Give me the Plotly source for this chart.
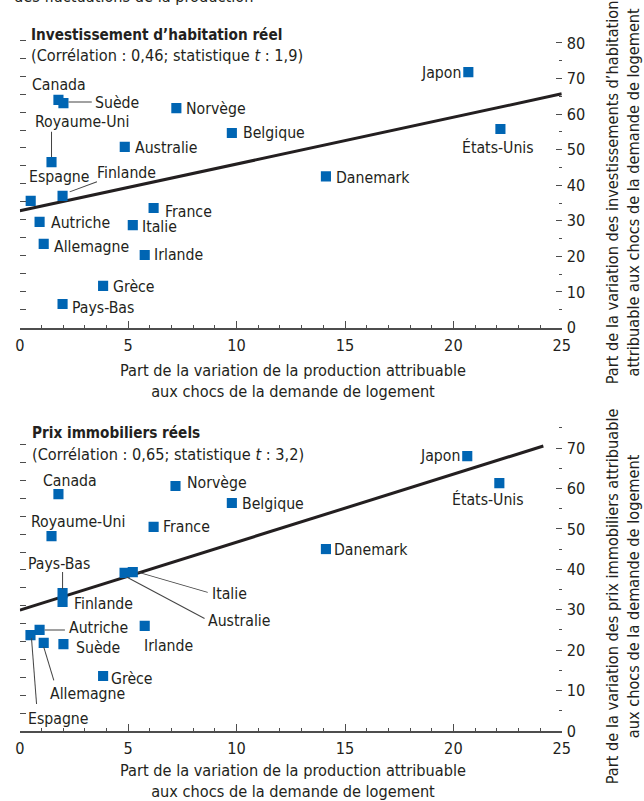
import plotly.graph_objects as go

# reference canvas (coordinates below are measured on it)
W0, H0 = 644, 801
# figure is built slightly larger so that it fills the photographed page
K = 652 / 644
W, H = round(W0 * K), round(H0 * K)

FONT = "DejaVu Sans Condensed, Liberation Sans Narrow, Arial Narrow, sans-serif"
TXT = "#231f20"
BLUE = "#0065b3"
AXC = "#4d4d4d"

# ---------------- data ----------------
countries_top = ["Canada", "Suède", "Norvège", "Belgique", "Australie", "Royaume-Uni",
                 "Espagne", "Finlande", "France", "Autriche", "Italie", "Allemagne",
                 "Irlande", "Grèce", "Pays-Bas", "Japon", "États-Unis", "Danemark"]
x_top = [1.78, 2.01, 7.22, 9.78, 4.84, 1.46, 0.50, 1.97, 6.17, 0.91, 5.21, 1.10,
         5.76, 3.84, 1.97, 20.69, 22.17, 14.12]
y_top = [64.0, 63.1, 61.7, 54.7, 50.8, 46.5, 35.6, 37.0, 33.6, 29.7, 28.8, 23.5,
         20.4, 11.7, 6.6, 71.8, 55.8, 42.5]
fit_top_x = [0, 25]
fit_top_y = [32.8, 65.7]

countries_bot = ["Canada", "Norvège", "Belgique", "France", "Royaume-Uni", "Danemark",
                 "Australie", "Italie", "Pays-Bas", "Finlande", "Irlande", "Autriche",
                 "Espagne", "Allemagne", "Suède", "Grèce", "Japon", "États-Unis"]
x_bot = [1.78, 7.18, 9.78, 6.17, 1.46, 14.12, 4.83, 5.21, 1.97, 1.97, 5.76, 0.91,
         0.49, 1.10, 2.01, 3.84, 20.64, 22.12]
y_bot = [58.6, 60.6, 56.4, 50.5, 48.2, 45.0, 39.1, 39.3, 34.1, 31.9, 26.0, 25.0,
         23.7, 21.8, 21.5, 13.6, 68.0, 61.3]
fit_bot_x = [0, 24.15]
fit_bot_y = [29.9, 70.5]

x_ticks = [0, 5, 10, 15, 20, 25]
y_ticks_top = [0, 10, 20, 30, 40, 50, 60, 70, 80]
y_ticks_bot = [0, 10, 20, 30, 40, 50, 60, 70]
left_ticks = [5, 10, 15, 20, 25, 30, 35, 40, 45, 50, 55, 60, 65, 70, 75, 80]

title_top = "<b>Investissement d’habitation réel</b>"
sub_top = "(Corrélation : 0,46; statistique <i>t</i> : 1,9)"
title_bot = "<b>Prix immobiliers réels</b>"
sub_bot = "(Corrélation : 0,65; statistique <i>t</i> : 3,2)"
xtitle = "Part de la variation de la production attribuable<br>aux chocs de la demande de logement"
ytitle_top = "Part de la variation des investissements d’habitation<br>attribuable aux chocs de la demande de logement"
ytitle_bot = "Part de la variation des prix immobiliers attribuable<br>aux chocs de la demande de logement"
cut_text = "des fluctuations de la production"

# ---------------- label placement (pixels) ----------------
# (xanchor, dx, dy_down)
lab_top = {
    "Canada": ("center", 1, -15), "Suède": ("left", 30, -1), "Norvège": ("left", 9, 0),
    "Belgique": ("left", 10, 0), "Australie": ("left", 9, 1), "Royaume-Uni": ("left", -17, -40),
    "Espagne": ("left", -3, -24), "Finlande": ("left", 33, -23), "France": ("left", 10, 3),
    "Autriche": ("left", 10, 1), "Italie": ("left", 8, 1), "Allemagne": ("left", 9, 3),
    "Irlande": ("left", 8, 0), "Grèce": ("left", 9, 1), "Pays-Bas": ("left", 8, 3),
    "Japon": ("right", -6, 0), "États-Unis": ("center", -2, 18), "Danemark": ("left", 9, 1),
}
lead_top = {
    "Suède": (5, -1, 28, -1), "Royaume-Uni": (0, -5, 0, -30), "Finlande": (7, -4, 34, -14),
}
lab_bot = {
    "Canada": ("center", 11, -13), "Norvège": ("left", 10, -3), "Belgique": ("left", 9, 1),
    "France": ("left", 8, 0), "Royaume-Uni": ("left", -21, -14), "Danemark": ("left", 7, 0),
    "Australie": ("left", 81, 47), "Italie": ("left", 77, 21), "Pays-Bas": ("left", -35, -29),
    "Finlande": ("left", 10, 1), "Irlande": ("left", -2, 19), "Autriche": ("left", 28, -2),
    "Espagne": ("left", -3, 82), "Allemagne": ("left", 5, 50), "Suède": ("left", 11, 3),
    "Grèce": ("left", 7, 2), "Japon": ("right", -6, -1), "États-Unis": ("center", -11, 16),
}
lead_bot = {
    "Pays-Bas": (0, -4, 0, -21), "Italie": (5, 0, 74, 20), "Australie": (2, 4, 79, 45),
    "Autriche": (5, 0, 25, 0), "Espagne": (1, 3, 6, 68), "Allemagne": (0, 4, 10, 37),
}

# ---------------- layout geometry ----------------
def px(x):
    return x / W0

def py(y):
    return 1 - y / H0

def s(v):
    return v * K

xdom = [px(15), px(562)]
ydom_top = [py(327.5), py(25.2)]
ydom_bot = [py(731), py(419.7)]

fig = go.Figure()

fig.add_trace(go.Scatter(x=fit_top_x, y=fit_top_y, mode="lines",
                         line=dict(color=TXT, width=s(3)), xaxis="x", yaxis="y",
                         hoverinfo="skip", showlegend=False))
fig.add_trace(go.Scatter(x=x_top, y=y_top, mode="markers", text=countries_top,
                         marker=dict(symbol="square", size=s(10), color=BLUE),
                         xaxis="x", yaxis="y", showlegend=False))
fig.add_trace(go.Scatter(x=fit_bot_x, y=fit_bot_y, mode="lines",
                         line=dict(color=TXT, width=s(3)), xaxis="x2", yaxis="y2",
                         hoverinfo="skip", showlegend=False))
fig.add_trace(go.Scatter(x=x_bot, y=y_bot, mode="markers", text=countries_bot,
                         marker=dict(symbol="square", size=s(10), color=BLUE),
                         xaxis="x2", yaxis="y2", showlegend=False))
# empty traces to activate left tick axes
fig.add_trace(go.Scatter(x=[], y=[], xaxis="x", yaxis="y3", showlegend=False))
fig.add_trace(go.Scatter(x=[], y=[], xaxis="x2", yaxis="y4", showlegend=False))

tickfont = dict(family=FONT, size=s(16), color=TXT)

def xaxis_cfg(anchor):
    return dict(domain=xdom, range=[0, 25], anchor=anchor, showgrid=False, zeroline=False,
                showline=True, linecolor=AXC, linewidth=s(1.5),
                ticks="inside", ticklen=s(7), tickwidth=s(1.3), tickcolor=AXC,
                tickvals=x_ticks, tickfont=tickfont, fixedrange=True,
                ticklabelstandoff=round(s(2)),
                minor=dict(dtick=1, tick0=0, ticks="inside", ticklen=s(3), tickwidth=s(1.2),
                           tickcolor=AXC, showgrid=False))

def yaxis_cfg(anchor, dom, rng, vals):
    return dict(domain=dom, range=rng, anchor=anchor, side="right", showgrid=False,
                zeroline=False, showline=False, ticks="inside", ticklen=s(6),
                tickwidth=s(1.3), tickcolor=AXC, tickvals=vals, tickfont=tickfont,
                fixedrange=True, ticklabelstandoff=round(s(4)),
                minor=dict(dtick=5, tick0=0, ticks="inside", ticklen=s(3), tickwidth=s(1.2),
                           tickcolor=AXC, showgrid=False))

def left_cfg(anchor, overl, rng):
    return dict(overlaying=overl, anchor=anchor, side="left", range=rng, showgrid=False,
                zeroline=False, showline=False, ticks="inside", ticklen=s(6),
                tickwidth=s(1.2), tickcolor=AXC, tickvals=left_ticks,
                showticklabels=False, fixedrange=True)

annotations = []
shapes = []
LABSIZE = 15.5

def add_labels(names, xs, ys, labs, leads, xr, yr):
    for n, xv, yv in zip(names, xs, ys):
        anc, dx, dy = labs[n]
        annotations.append(dict(x=xv, y=yv, xref=xr, yref=yr, text=n, showarrow=False,
                                xanchor=anc, yanchor="middle", xshift=s(dx), yshift=-s(dy),
                                borderpad=0,
                                font=dict(family=FONT, size=s(LABSIZE), color=TXT)))
        if n in leads:
            x0, y0, x1, y1 = leads[n]
            shapes.append(dict(type="line", xref=xr, yref=yr, xsizemode="pixel",
                               ysizemode="pixel", xanchor=xv, yanchor=yv,
                               x0=s(x0), x1=s(x1), y0=-s(y0), y1=-s(y1),
                               line=dict(color="#444444", width=s(1))))

add_labels(countries_top, x_top, y_top, lab_top, lead_top, "x", "y")
add_labels(countries_bot, x_bot, y_bot, lab_bot, lead_bot, "x2", "y2")

def ptext(text, x, y, size=16, xanchor="left", yanchor="middle", angle=0, align="left"):
    annotations.append(dict(x=px(x), y=py(y), xref="paper", yref="paper", text=text,
                            showarrow=False, xanchor=xanchor, yanchor=yanchor,
                            textangle=angle, align=align, borderpad=0,
                            font=dict(family=FONT, size=s(size), color=TXT)))

ptext(cut_text, 8, 7, yanchor="bottom")
ptext(title_top, 25, 35, size=15)
ptext(sub_top, 25, 56)
ptext(title_bot, 26, 433, size=15)
ptext(sub_bot, 26, 454)
ptext(xtitle, 291, 381, xanchor="center", align="center")
ptext(xtitle, 291, 781, xanchor="center", align="center")
ptext(ytitle_top, 624, 192, xanchor="center", angle=-90, align="center")
ptext(ytitle_bot, 624, 596, xanchor="center", angle=-90, align="center")

fig.update_layout(
    width=W, height=H, margin=dict(l=0, r=0, t=0, b=0),
    paper_bgcolor="white", plot_bgcolor="white", showlegend=False,
    font=dict(family=FONT, size=s(16), color=TXT),
    xaxis=xaxis_cfg("y"),
    xaxis2=xaxis_cfg("y2"),
    yaxis=yaxis_cfg("x", ydom_top, [0, 85], y_ticks_top),
    yaxis2=yaxis_cfg("x2", ydom_bot, [0, 77], y_ticks_bot),
    yaxis3=left_cfg("x", "y", [0, 84.2]),
    yaxis4=left_cfg("x2", "y2", [0, 86.96]),
    annotations=annotations, shapes=shapes,
)

fig.write_html("out.html", config={"displayModeBar": False},
               post_script="document.body.style.margin='0';")
